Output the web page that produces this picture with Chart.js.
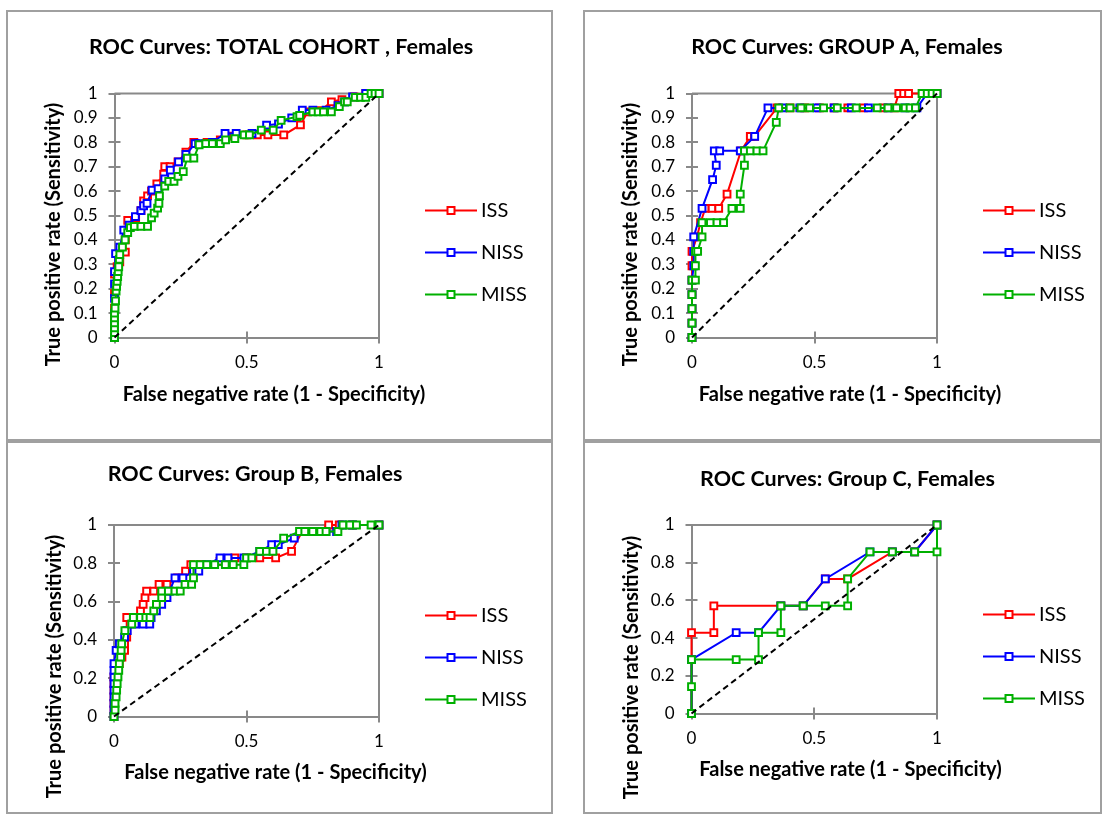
<!DOCTYPE html>
<html>
<head>
<meta charset="utf-8">
<title>ROC Curves, Females</title>
<script src="https://cdn.jsdelivr.net/npm/chart.js"></script>
<style>
    html, body { margin: 0; padding: 0; overflow: hidden; background: #fff; }
    .panel {
        position: absolute;
        box-sizing: border-box;
        border: 2px solid #a0a0a0;
        background: #fff;
    }
    .panel canvas { position: absolute; left: 0; top: 0; }
</style>
</head>
<body>
<div class="panel" style="left:6px;top:10px;width:547px;height:431px"><canvas id="c1"></canvas></div>
<div class="panel" style="left:583px;top:10px;width:519px;height:431px"><canvas id="c2"></canvas></div>
<div class="panel" style="left:6px;top:441px;width:547px;height:373px"><canvas id="c3"></canvas></div>
<div class="panel" style="left:583px;top:441px;width:519px;height:373px"><canvas id="c4"></canvas></div>

<script>
// series and axes
const seriesNames = ['ISS', 'NISS', 'MISS'];
const seriesColors = ['#ff0000', '#0000ff', '#00b000'];
const panelTitles = [
    'ROC Curves: TOTAL COHORT , Females',
    'ROC Curves: GROUP A, Females',
    'ROC Curves: Group B, Females',
    'ROC Curves: Group C, Females'
];
const xAxisTitle = 'False negative rate (1 - Specificity)';
const yAxisTitle = 'True positive rate (Sensitivity)';
const xTicks = [0, 0.5, 1];
const yTicksTenths = [0, 0.1, 0.2, 0.3, 0.4, 0.5, 0.6, 0.7, 0.8, 0.9, 1];
const yTicksFifths = [0, 0.2, 0.4, 0.6, 0.8, 1];
const chanceLine = [[0, 0], [1, 1]];

// [1 - specificity, sensitivity]
const totalISS = [[0,0],[0,0.04],[0,0.08],[0,0.12],[0,0.18],[0,0.26],[0.01,0.29],[0.02,0.31],[0.041,0.35],[0.041,0.4],
    [0.048,0.44],[0.05,0.48],[0.08,0.49],[0.1,0.52],[0.11,0.56],[0.125,0.58],[0.14,0.6],[0.16,0.63],[0.186,0.67],[0.19,0.7],
    [0.21,0.7],[0.24,0.72],[0.27,0.76],[0.3,0.8],[0.35,0.8],[0.4,0.81],[0.45,0.825],[0.5,0.83],[0.54,0.83],[0.58,0.83],
    [0.64,0.83],[0.703,0.871],[0.73,0.925],[0.78,0.93],[0.82,0.966],[0.86,0.975],[0.905,0.986],[0.95,1],[1,1]];
const totalNISS = [[0,0],[0,0.05],[0,0.1],[0,0.16],[0,0.22],[0,0.27],[0.004,0.344],[0.02,0.37],[0.035,0.44],[0.055,0.46],
    [0.079,0.495],[0.1,0.52],[0.11,0.54],[0.123,0.55],[0.142,0.604],[0.165,0.61],[0.19,0.65],[0.211,0.686],[0.242,0.72],[0.27,0.75],
    [0.305,0.795],[0.318,0.795],[0.37,0.8],[0.418,0.836],[0.46,0.836],[0.52,0.836],[0.575,0.87],[0.62,0.875],[0.67,0.9],[0.71,0.932],
    [0.75,0.932],[0.8,0.932],[0.845,0.95],[0.87,0.966],[0.9,0.986],[0.95,1],[1,1]];
const totalMISS = [[0,0],[0,0.02],[0,0.04],[0,0.06],[0,0.08],[0,0.1],[0.002,0.12],[0.004,0.15],[0.006,0.19],[0.008,0.21],
    [0.01,0.23],[0.012,0.25],[0.014,0.27],[0.016,0.29],[0.018,0.32],[0.02,0.34],[0.03,0.37],[0.04,0.4],[0.05,0.43],[0.06,0.45],
    [0.075,0.455],[0.1,0.455],[0.125,0.455],[0.14,0.49],[0.15,0.51],[0.163,0.53],[0.168,0.55],[0.17,0.58],[0.19,0.62],[0.205,0.64],
    [0.225,0.64],[0.24,0.66],[0.26,0.68],[0.275,0.735],[0.3,0.735],[0.32,0.79],[0.345,0.795],[0.37,0.795],[0.4,0.795],[0.42,0.81],
    [0.455,0.815],[0.49,0.83],[0.51,0.83],[0.555,0.85],[0.6,0.85],[0.63,0.89],[0.69,0.905],[0.7,0.91],[0.75,0.925],[0.77,0.925],
    [0.79,0.925],[0.82,0.925],[0.85,0.946],[0.87,0.966],[0.88,0.966],[0.91,0.984],[0.93,0.984],[0.95,0.984],[0.97,1],[0.985,1],[1,1]];

const groupAISS = [[0,0],[0,0.059],[0,0.118],[0,0.176],[0,0.235],[0,0.294],[0,0.353],[0.02,0.412],[0.035,0.471],[0.054,0.529],
    [0.082,0.529],[0.109,0.529],[0.143,0.588],[0.2,0.765],[0.238,0.824],[0.255,0.824],[0.347,0.941],[0.4,0.941],[0.46,0.941],[0.52,0.941],
    [0.58,0.941],[0.636,0.941],[0.7,0.941],[0.78,0.941],[0.826,0.941],[0.844,1],[0.864,1],[0.884,1],[0.94,1],[1,1]];
const groupANISS = [[0,0],[0,0.059],[0,0.118],[0,0.176],[0,0.235],[0.007,0.294],[0.007,0.353],[0.007,0.412],[0.041,0.529],[0.084,0.647],
    [0.099,0.706],[0.091,0.765],[0.113,0.765],[0.197,0.765],[0.256,0.824],[0.31,0.941],[0.37,0.941],[0.44,0.941],[0.51,0.941],[0.58,0.941],
    [0.65,0.941],[0.72,0.941],[0.8,0.941],[0.87,0.941],[0.918,0.941],[0.96,1],[1,1]];
const groupAMISS = [[0,0],[0,0.059],[0,0.118],[0,0.176],[0,0.235],[0.014,0.235],[0.014,0.294],[0.014,0.353],[0.023,0.353],[0.041,0.412],
    [0.041,0.471],[0.075,0.471],[0.102,0.471],[0.129,0.471],[0.163,0.529],[0.197,0.529],[0.197,0.588],[0.214,0.706],[0.214,0.765],[0.238,0.765],
    [0.265,0.765],[0.29,0.765],[0.344,0.882],[0.354,0.941],[0.4,0.941],[0.445,0.941],[0.48,0.941],[0.537,0.941],[0.593,0.941],[0.67,0.941],
    [0.756,0.941],[0.8,0.941],[0.835,0.941],[0.87,0.941],[0.89,0.941],[0.912,0.941],[0.939,1],[0.96,1],[0.98,1],[1,1]];

const groupBISS = [[0,0],[0,0.034],[0,0.069],[0,0.103],[0,0.138],[0,0.172],[0,0.207],[0.01,0.241],[0.02,0.276],[0.03,0.31],
    [0.04,0.345],[0.04,0.379],[0.048,0.414],[0.048,0.448],[0.048,0.517],[0.073,0.517],[0.1,0.552],[0.11,0.586],[0.117,0.621],[0.123,0.655],
    [0.15,0.655],[0.17,0.69],[0.2,0.69],[0.24,0.724],[0.27,0.759],[0.29,0.793],[0.33,0.793],[0.4,0.81],[0.456,0.828],[0.5,0.828],
    [0.55,0.828],[0.61,0.828],[0.67,0.862],[0.71,0.966],[0.77,0.966],[0.81,1],[0.85,1],[0.9,1],[1,1]];
const groupBNISS = [[0,0],[0,0.034],[0,0.069],[0,0.103],[0,0.138],[0,0.172],[0,0.207],[0,0.241],[0,0.276],[0.008,0.345],
    [0.02,0.379],[0.04,0.414],[0.05,0.448],[0.08,0.483],[0.11,0.483],[0.135,0.483],[0.14,0.517],[0.16,0.552],[0.18,0.586],[0.2,0.621],
    [0.21,0.655],[0.23,0.724],[0.26,0.724],[0.3,0.759],[0.32,0.759],[0.35,0.793],[0.4,0.828],[0.43,0.828],[0.49,0.828],[0.55,0.862],
    [0.595,0.897],[0.62,0.897],[0.68,0.931],[0.72,0.966],[0.8,0.966],[0.84,0.966],[0.86,1],[0.9,1],[1,1]];
const groupBMISS = [[0,0],[0.004,0.034],[0.004,0.069],[0.008,0.103],[0.01,0.138],[0.012,0.172],[0.015,0.207],[0.018,0.241],[0.02,0.276],[0.025,0.31],
    [0.027,0.345],[0.029,0.379],[0.041,0.448],[0.067,0.483],[0.073,0.517],[0.1,0.517],[0.12,0.517],[0.136,0.517],[0.15,0.552],[0.16,0.586],
    [0.18,0.621],[0.18,0.655],[0.205,0.655],[0.23,0.655],[0.25,0.655],[0.268,0.69],[0.293,0.69],[0.3,0.724],[0.3,0.793],[0.325,0.793],
    [0.35,0.793],[0.38,0.793],[0.42,0.793],[0.45,0.793],[0.49,0.793],[0.5,0.828],[0.52,0.828],[0.55,0.862],[0.575,0.862],[0.6,0.862],
    [0.64,0.931],[0.7,0.966],[0.72,0.966],[0.75,0.966],[0.78,0.966],[0.8,0.966],[0.845,0.966],[0.864,1],[0.89,1],[0.915,1],[0.97,1],[1,1]];

const groupCISS = [[0,0],[0,0.286],[0,0.429],[0.091,0.429],[0.091,0.571],[0.364,0.571],[0.455,0.571],[0.545,0.714],[0.636,0.714],[0.818,0.857],
    [0.909,0.857],[1,1]];
const groupCNISS = [[0,0],[0,0.286],[0.182,0.429],[0.273,0.429],[0.364,0.571],[0.455,0.571],[0.545,0.714],[0.727,0.857],[0.818,0.857],[0.909,0.857],
    [1,1]];
const groupCMISS = [[0,0],[0,0.143],[0,0.286],[0.182,0.286],[0.273,0.286],[0.273,0.429],[0.364,0.429],[0.364,0.571],[0.455,0.571],[0.545,0.571],
    [0.636,0.571],[0.636,0.714],[0.727,0.857],[0.818,0.857],[0.909,0.857],[1,0.857],[1,1]];

const axisGray = '#898989';
const fontFamily = 'Lato, "Liberation Sans", sans-serif';

// titles, frame and the Excel-style legend
const excelLook = {
    id: 'excelLook',
    beforeDatasetsDraw(chart, args, o) {
        const {ctx, chartArea: a, scales} = chart;
        ctx.save();
        ctx.strokeStyle = axisGray;
        ctx.lineWidth = 2;
        ctx.beginPath();
        ctx.moveTo(a.left, a.top);
        ctx.lineTo(a.right, a.top);
        ctx.lineTo(a.right, a.bottom);
        // ticks cross the axis line
        scales.x.ticks.forEach(t => {
            const px = Math.round(scales.x.getPixelForValue(t.value));
            ctx.moveTo(px, a.bottom);
            ctx.lineTo(px, a.bottom - 6);
        });
        scales.y.ticks.forEach(t => {
            const py = Math.round(scales.y.getPixelForValue(t.value));
            ctx.moveTo(a.left, py);
            ctx.lineTo(a.left + 6, py);
        });
        ctx.stroke();
        ctx.restore();
    },
    afterDraw(chart, args, o) {
        const {ctx, chartArea: a} = chart;
        ctx.save();
        ctx.fillStyle = '#000';
        ctx.textBaseline = 'middle';
        ctx.textAlign = 'center';
        ctx.font = 'bold 21.5px ' + fontFamily;
        ctx.fillText(o.title, o.titleX, o.titleY);
        ctx.font = 'bold 20px ' + fontFamily;
        ctx.fillText(xAxisTitle, o.xTitleX, o.xTitleY);
        ctx.save();
        ctx.translate(o.yTitleX, o.yTitleY);
        ctx.rotate(-Math.PI / 2);
        ctx.fillText(yAxisTitle, 0, 0);
        ctx.restore();

        ctx.font = '20px ' + fontFamily;
        ctx.textAlign = 'left';
        chart.data.datasets.filter(d => seriesNames.includes(d.label)).forEach((d, i) => {
            const y = Math.round(o.legendY + i * 42) + 0.5;
            const x0 = a.right + 46;
            ctx.strokeStyle = d.borderColor;
            ctx.lineWidth = 2;
            ctx.beginPath();
            ctx.moveTo(x0, y);
            ctx.lineTo(x0 + 52, y);
            ctx.stroke();
            ctx.fillStyle = '#fff';
            ctx.beginPath();
            ctx.rect(x0 + 26 - 3.5, y - 3.5, 7, 7);
            ctx.fill();
            ctx.stroke();
            ctx.fillStyle = '#000';
            ctx.fillText(d.label, a.right + 102, y);
        });
        ctx.restore();
    }
};

const panels = [
    {id: 'c1', w: 543, h: 427, title: panelTitles[0], yTicks: yTicksTenths, series: [totalISS, totalNISS, totalMISS],
     plot: {left: 106.5, right: 371, top: 81.5, bottom: 325.5},
     text: {titleX: 273, titleY: 35, xTitleX: 266, xTitleY: 383, yTitleX: 46, yTitleY: 222.5, legendY: 198}},
    {id: 'c2', w: 515, h: 427, title: panelTitles[1], yTicks: yTicksTenths, series: [groupAISS, groupANISS, groupAMISS],
     plot: {left: 107, right: 352, top: 81.5, bottom: 325.5},
     text: {titleX: 262, titleY: 35, xTitleX: 265, xTitleY: 383, yTitleX: 46, yTitleY: 222.5, legendY: 198}},
    {id: 'c3', w: 543, h: 369, title: panelTitles[2], yTicks: yTicksFifths, series: [groupBISS, groupBNISS, groupBMISS],
     plot: {left: 106, right: 371, top: 82, bottom: 273.5},
     text: {titleX: 247, titleY: 31.5, xTitleX: 267.5, xTitleY: 330, yTitleX: 47, yTitleY: 223.5, legendY: 172}},
    {id: 'c4', w: 515, h: 369, title: panelTitles[3], yTicks: yTicksFifths, series: [groupCISS, groupCNISS, groupCMISS],
     plot: {left: 106.5, right: 352, top: 82, bottom: 270.5},
     text: {titleX: 262.5, titleY: 36.5, xTitleX: 265.5, xTitleY: 327, yTitleX: 47, yTitleY: 224.5, legendY: 170.5}}
];

const toPoints = arr => arr.map(p => ({x: p[0], y: p[1]}));

panels.forEach(p => {
    const canvas = document.getElementById(p.id);
    canvas.width = p.w;
    canvas.height = p.h;
    canvas.style.width = p.w + 'px';
    canvas.style.height = p.h + 'px';

    const datasets = p.series.map((s, i) => ({
        label: seriesNames[i],
        data: toPoints(s),
        showLine: true,
        borderColor: seriesColors[i],
        borderWidth: 2,
        pointStyle: 'rect',
        pointRadius: 4.8,
        pointBorderWidth: 2,
        pointBorderColor: seriesColors[i],
        pointBackgroundColor: '#fff',
        tension: 0,
        clip: false,
        order: 3 - i
    }));
    datasets.push({
        label: 'chance',
        data: toPoints(chanceLine),
        showLine: true,
        borderColor: '#000',
        borderWidth: 2,
        borderDash: [6, 4],
        pointRadius: 0,
        clip: false,
        order: 0
    });

    new Chart(canvas, {
        type: 'scatter',
        data: {datasets: datasets},
        plugins: [excelLook],
        options: {
            responsive: false,
            animation: false,
            events: [],
            layout: {padding: {left: 0, top: p.plot.top, right: p.w - p.plot.right, bottom: 0}},
            plugins: {
                legend: {display: false},
                tooltip: {enabled: false},
                excelLook: Object.assign({title: p.title}, p.text)
            },
            scales: {
                x: {
                    type: 'linear',
                    min: 0,
                    max: 1,
                    afterBuildTicks: s => { s.ticks = xTicks.map(v => ({value: v})); },
                    afterFit: s => { s.height = p.h - p.plot.bottom; },
                    ticks: {
                        autoSkip: false,
                        maxRotation: 0,
                        padding: 9,
                        color: '#000',
                        font: {family: fontFamily, size: 17},
                        callback: v => String(v)
                    },
                    grid: {drawOnChartArea: false, tickLength: 6, color: axisGray, lineWidth: 2},
                    border: {color: axisGray, width: 2}
                },
                y: {
                    type: 'linear',
                    min: 0,
                    max: 1,
                    afterBuildTicks: s => { s.ticks = p.yTicks.map(v => ({value: v})); },
                    afterFit: s => { s.width = p.plot.left; },
                    ticks: {
                        autoSkip: false,
                        padding: 11,
                        color: '#000',
                        font: {family: fontFamily, size: 17},
                        callback: v => String(v)
                    },
                    grid: {drawOnChartArea: false, tickLength: 6, color: axisGray, lineWidth: 2},
                    border: {color: axisGray, width: 2}
                }
            }
        }
    });
});
</script>
</body>
</html>
